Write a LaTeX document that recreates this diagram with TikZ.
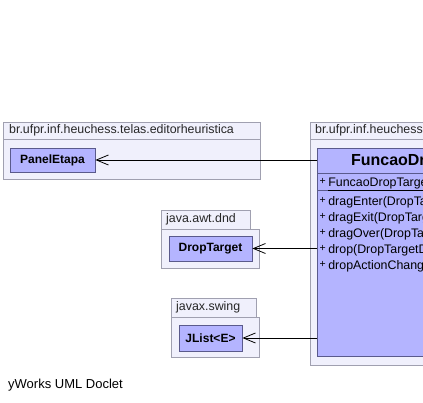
\documentclass[tikz,border=0pt]{standalone}
\usepackage{fontspec}
\setmainfont{Liberation Sans}
\usetikzlibrary{arrows.meta}
\definecolor{pkgfill}{RGB}{240,240,252}
\definecolor{pkgline}{RGB}{160,160,176}
\definecolor{clsfill}{RGB}{180,180,255}
\definecolor{clsline}{RGB}{90,90,140}
\tikzset{
  pkgbody/.style={draw=pkgline,fill=pkgfill,line width=0.8pt,anchor=north west,inner sep=0pt},
  pkgtab/.style={draw=pkgline,fill=pkgfill,line width=0.8pt,anchor=north west,inner sep=0pt},
  pkglabel/.style={anchor=west,inner sep=0pt,font=\fontsize{12.4}{14}\selectfont,text=black!85},
  cls/.style={draw=clsline,fill=clsfill,line width=0.8pt,inner sep=0pt,
     font=\fontsize{12}{14}\selectfont\bfseries},
  member/.style={anchor=west,inner sep=0pt,font=\fontsize{12.4}{14}\selectfont},
  dep/.style={draw=black,line width=0.8pt,-{Straight Barb[length=12pt,width=10pt,line width=0.8pt]}}
}
\newcommand{\plusmark}{\raisebox{2pt}{\fontsize{10.5}{11}\selectfont +}\hspace{2.5pt}}
\begin{document}
\begin{tikzpicture}[x=1pt,y=-1pt]
\useasboundingbox (0,0) rectangle (423,403);
\clip (0,0) rectangle (423,403);
% package 1
\node[pkgbody,minimum width=257pt,minimum height=40pt] (p1) at (3,139) {};
\node[pkgtab,minimum width=257pt,minimum height=17pt] (t1) at (3,122) {};
\node[pkglabel] (l1) at (9,130.5) {br.ufpr.inf.heuchess.telas.editorheuristica};
\node[cls,minimum width=85pt,minimum height=24pt] (pe) at (52.5,160) {PanelEtapa};
% package 2
\node[pkgbody,minimum width=98pt,minimum height=39pt] (p2) at (161,229) {};
\node[pkgtab,minimum width=89pt,minimum height=19pt] (t2) at (161,210) {};
\node[pkglabel] (l2) at (166,219.5) {java.awt.dnd};
\node[cls,minimum width=83pt,minimum height=25pt] (dt) at (210.5,248.5) {DropTarget};
% package 3
\node[pkgbody,minimum width=88pt,minimum height=40pt] (p3) at (171,317) {};
\node[pkgtab,minimum width=85pt,minimum height=19pt] (t3) at (171,298) {};
\node[pkglabel] (l3) at (176,307.5) {javax.swing};
\node[cls,minimum width=63pt,minimum height=26pt] (jl) at (210.5,338) {JList<E>};
% package 4
\node[pkgbody,minimum width=230pt,minimum height=226pt] (p4) at (310,139) {};
\node[pkgtab,minimum width=200pt,minimum height=17pt] (t4) at (310,122) {};
\node[pkglabel] (l4) at (315,130.5) {br.ufpr.inf.heuchess};
\node[draw=clsline,fill=clsfill,line width=0.8pt,anchor=north west,inner sep=0pt,minimum width=210pt,minimum height=208pt] (fd) at (317,148) {};
\node[inner sep=0pt,font=\fontsize{16}{18}\selectfont\bfseries] (fdn) at (422,162) {FuncaoDropTarget};
\draw[draw=clsline,line width=0.8pt] (fd.west |- 0,173) coordinate (s1) -- (fd.east |- 0,173) coordinate (s1e);
\draw[draw=clsline,line width=0.8pt] (fd.west |- 0,190) coordinate (s2) -- (fd.east |- 0,190) coordinate (s2e);
\node[member] (m0) at (319.5,184) {\plusmark\underline{FuncaoDropTarget()}};
\node[member] (m1) at (319.5,202.5) {\plusmark dragEnter(DropTargetDragEvent)};
\node[member] (m2) at (319.5,218.5) {\plusmark dragExit(DropTargetEvent)};
\node[member] (m3) at (319.5,234.5) {\plusmark dragOver(DropTargetDragEvent)};
\node[member] (m4) at (319.5,250.5) {\plusmark drop(DropTargetDropEvent)};
\node[member] (m5) at (319.5,266.5) {\plusmark dropActionChanged(DropTargetDragEvent)};
% dependencies
\draw[dep] (fd.west |- pe.east) -- (pe.east);
\draw[dep] (fd.west |- dt.east) -- (dt.east);
\draw[dep] (fd.west |- jl.east) -- (jl.east);
% footer
\node[anchor=west,inner sep=0pt,font=\fontsize{13}{15}\selectfont] (yw) at (8,385) {yWorks UML Doclet};
\end{tikzpicture}
\end{document}
